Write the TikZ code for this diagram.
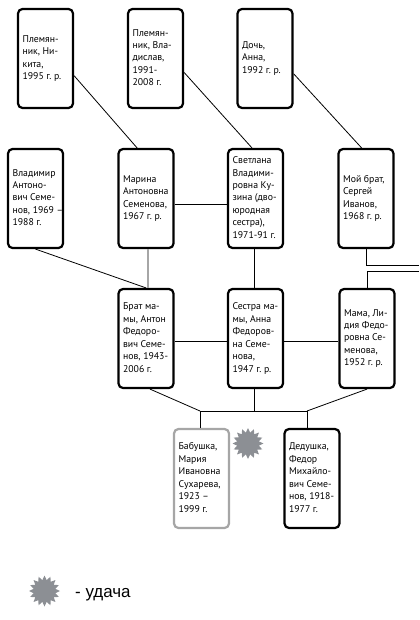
\documentclass[tikz,border=0pt]{standalone}
\usepackage{fontspec}
\setmainfont{PT Sans}
\newfontfamily\legendfont{Liberation Sans}
\usetikzlibrary{shapes.geometric,calc}
\definecolor{boxgray}{HTML}{A6A6A6}
\definecolor{stargray}{HTML}{8C8F94}
\newcommand{\ptxt}[1]{\frenchspacing\makebox[55bp][l]{\hspace{4.6bp}\begin{tabular}{@{}l@{}}#1\end{tabular}}}
\begin{document}
\begin{tikzpicture}[x=1bp,y=-1bp,
  person/.style={draw=black, line width=2.2bp, rounded corners=4.5bp, fill=white,
    minimum width=55bp, minimum height=99bp, inner xsep=0bp,
    font=\fontsize{9.8}{12.5}\selectfont},
  grayperson/.style={person, draw=boxgray},
  link/.style={line width=0.8bp, draw=black},
  graylink/.style={line width=1.2bp, draw=boxgray},
  luck/.style={star, star points=16, star point ratio=1.4, fill=stargray, draw=none,
    minimum size=31bp, inner sep=0pt}]
\useasboundingbox (0,0) rectangle (419,620);
% top row
\node[person] (A) at (45.5,58.5) {\ptxt{Племян-\\ник, Ни-\\кита,\\1995 г. р.}};
\node[person] (B) at (155.5,58.5) {\ptxt{Племян-\\ник, Вла-\\дислав,\\1991-\\2008 г.}};
\node[person] (C) at (265,58.5) {\ptxt{Дочь,\\Анна,\\1992 г. р.}};
% second row
\node[person] (D) at (35.5,198.5) {\ptxt{Владимир\\Антоно-\\вич Семе-\\нов, 1969 –\\1988 г.}};
\node[person] (E) at (146,198.5) {\ptxt{Марина\\Антоновна\\Семенова,\\1967 г. р.}};
\node[person] (F) at (255.5,198.5) {\ptxt{Светлана\\Владими-\\ровна Ку-\\зина (дво-\\юродная\\сестра),\\1971-91 г.}};
\node[person] (G) at (366,198.5) {\ptxt{Мой брат,\\Сергей\\Иванов,\\1968 г. р.}};
% third row
\node[person] (H) at (146,338.5) {\ptxt{Брат ма-\\мы, Антон\\Федоро-\\вич Семе-\\нов, 1943-\\2006 г.}};
\node[person] (I) at (255.5,338.5) {\ptxt{Сестра ма-\\мы, Анна\\Федоров-\\на Семе-\\нова,\\1947 г. р.}};
\node[person] (J) at (367,338.5) {\ptxt{Мама, Ли-\\дия Федо-\\ровна Се-\\менова,\\1952 г. р.}};
% fourth row
\node[grayperson] (K) at (201.5,478.5) {\ptxt{Бабушка,\\Мария\\Ивановна\\Сухарева,\\1923 –\\1999 г.}};
\node[person] (L) at (312,478.5) {\ptxt{Дедушка,\\Федор\\Михайло-\\вич Семе-\\нов, 1918-\\1977 г.}};
% star
\node[luck] (S) at (248,443.5) {};
% legend
\node[luck] (LS) at (44.5,591) {};
\node[anchor=base west, inner sep=0pt, font=\legendfont\fontsize{17}{20}\selectfont] (LT) at (75,597) {- удача};
% coordinates
\coordinate (gr1) at (419,265.5);
\coordinate (gr2) at (419,271.5);
\coordinate (j1) at (200,411);
\coordinate (j2) at (307,411);
% connectors
\draw[link] (A.-31) -- (E.100);
\draw[link] (B.-26) -- (F.94);
\draw[link] (C.-28) -- (G.95);
\draw[link] (D.south) -- (H.north);
\draw[graylink] ([xshift=2bp]E.south) -- ([xshift=2bp]H.north);
\draw[link] ([yshift=-6bp]E.east) -- ([yshift=-6bp]F.west);
\draw[link] ([xshift=-1.5bp]F.south) -- ([xshift=-1.5bp]I.north);
\draw[link] (G.south) |- (gr1);
\draw[link] (gr2) -| (J.north);
\draw[link] ([yshift=-2.5bp]H.east) -- ([yshift=-2.5bp]I.west);
\draw[link] ([yshift=-2.5bp]I.east) -- ([yshift=-2.5bp]J.west);
\draw[link] ([xshift=4bp]H.south) -- (j1);
\draw[link] (J.south) -- (j2);
\draw[link] ([xshift=-1.5bp]I.south) -- ([xshift=-1.5bp]I.south |- j1);
\draw[link] (j1) -- (j2);
\draw[link] (j1) -- (j1 |- K.north);
\draw[link] (j2) -- (j2 |- L.north);
\end{tikzpicture}
\end{document}
